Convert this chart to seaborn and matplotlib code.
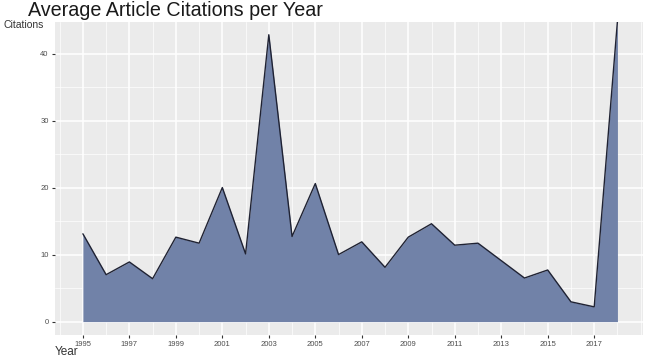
import numpy as np
import pandas as pd
import seaborn as sns
import matplotlib.pyplot as plt
from matplotlib.ticker import MultipleLocator

# --- data ---
years = list(range(1995, 2019))
citations = [13.1, 7.0, 8.9, 6.4, 12.6, 11.7, 20.0, 10.1, 42.8, 12.7,
             20.6, 10.0, 11.9, 8.1, 12.6, 14.6, 11.4, 11.7, 9.1, 6.5,
             7.7, 2.95, 2.2, 44.8]
year_ticks = list(range(1995, 2018, 2))
citation_ticks = [0, 10, 20, 30, 40]

df = pd.DataFrame({'Year': years, 'Citations': citations})

sns.set_style('darkgrid', {'axes.facecolor': '#EBEBEB', 'grid.color': 'white'})
plt.rcParams['font.family'] = ['Liberation Sans', 'DejaVu Sans']

fig = plt.figure(figsize=(6.5, 3.61), dpi=100)
ax = fig.add_axes([55 / 650, 1 - 335 / 361, 588 / 650, 313 / 361])

ax.fill_between(df['Year'], 0, df['Citations'], color='#7182A8', lw=0, zorder=2)
sns.lineplot(data=df, x='Year', y='Citations', color='#1f2233', lw=1.0, ax=ax, zorder=3)

ax.set_xlim(1993.8, 2019.1)
ax.set_ylim(-2.0, 44.7)
ax.set_xticks(year_ticks)
ax.set_yticks(citation_ticks)
ax.xaxis.set_minor_locator(MultipleLocator(1))
ax.yaxis.set_minor_locator(MultipleLocator(5))
ax.grid(which='major', color='white', lw=1.1)
ax.grid(which='minor', color='white', lw=0.5)
ax.tick_params(which='major', length=2.5, color='#333333', labelsize=5.5,
               labelcolor='#4D4D4D', pad=2, bottom=True, left=True)
ax.tick_params(which='minor', length=0)
for s in ax.spines.values():
    s.set_visible(False)
ax.set_xlabel('')
ax.set_ylabel('')

fig.text(28 / 650, 1 - 11 / 361, 'Average Article Citations per Year', fontsize=14.2,
         color='#1a1a1a', ha='left', va='center')
fig.text(4 / 650, 1 - 25 / 361, 'Citations', fontsize=7.5, color='#333333',
         ha='left', va='center')
fig.text(55 / 650, 1 - 352 / 361, 'Year', fontsize=8.5, color='#333333',
         ha='left', va='center')

fig.savefig('out.png', dpi=100)
